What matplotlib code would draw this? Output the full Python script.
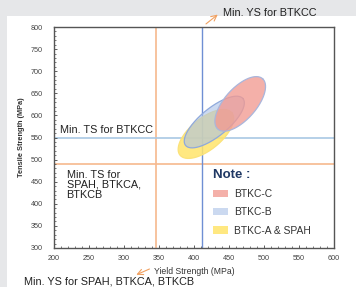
import numpy as np
import matplotlib.pyplot as plt
from matplotlib.patches import Rectangle, Patch

plt.rcParams['font.family'] = ['Liberation Sans', 'DejaVu Sans']

# minimum requirements (MPa)
ys_min_spah, ys_min_btkcc = 345, 412
ts_min_spah, ts_min_btkcc = 490, 550

# property ranges drawn as ellipses: centre, half-extent along major axis, minor/major ratio
grades = ['BTKC-C', 'BTKC-B', 'BTKC-A & SPAH']
center_ys = [466, 429, 417]
center_ts = [626, 585, 558]
half_ys = [32, 41, 37]
half_ts = [57, 53, 48]
minor_ratio = [0.47, 0.38, 0.47]

fills = ['#f29a91', '#a9c1e6', '#ffe56b']
edges = ['#aab6dc', '#8fa9dc', '#fbe27a']
alphas = [0.78, 0.6, 0.85]

xticks = np.arange(200, 601, 50)
yticks = np.arange(300, 801, 50)

def ellipse_xy(ax, cx, cy, dx, dy, ratio):
    """Ellipse in data units whose minor axis is perpendicular on screen."""
    t = np.linspace(0, 2*np.pi, 200)
    c = ax.transData.transform((cx, cy))
    maj = ax.transData.transform((cx + dx, cy + dy)) - c
    mnr = np.array([-maj[1], maj[0]]) * ratio
    pts = c + np.outer(np.cos(t), maj) + np.outer(np.sin(t), mnr)
    pts = ax.transData.inverted().transform(pts)
    return pts[:, 0], pts[:, 1]

W, H = 356, 287
fig = plt.figure(figsize=(W/100, H/100), dpi=100)
fig.patch.set_facecolor('#e6e7e9')
fig.add_artist(Rectangle((7/W, 0), 1, 1 - 16/H, transform=fig.transFigure,
                         facecolor='white', edgecolor='none', zorder=-10))

ax = fig.add_axes([54/W, 39/H, 280/W, 221/H])
ax.set_xlim(200, 600)
ax.set_ylim(300, 800)
ax.set_xticks(xticks)
ax.set_yticks(yticks)
ax.set_xticks(np.arange(200, 601, 10), minor=True)
ax.set_yticks(np.arange(300, 801, 10), minor=True)
ax.tick_params(which='both', direction='in', labelsize=5.2, labelcolor='#444444', color='#444444')
ax.tick_params(axis='x', pad=5)
ax.tick_params(axis='y', pad=8)
ax.tick_params(which='major', length=2, width=0.6)
ax.tick_params(which='minor', length=1.2, width=0.5)
for s in ax.spines.values():
    s.set_color('#555555')
    s.set_linewidth(1.0)

# requirement lines
ax.axvline(ys_min_spah, color='#f6b98e', lw=1.2, zorder=1)
ax.axhline(ts_min_spah, color='#f6b98e', lw=1.2, zorder=1)
ax.axhline(ts_min_btkcc, color='#a9c8e4', lw=1.2, zorder=1)
ax.axvline(ys_min_btkcc, color='#6f8fd4', lw=1.0, zorder=1)

# ellipses, drawn bottom (yellow) to top (red)
for i in [2, 1, 0]:
    x, y = ellipse_xy(ax, center_ys[i], center_ts[i], half_ys[i], half_ts[i], minor_ratio[i])
    ax.fill(x, y, facecolor=fills[i], alpha=alphas[i], edgecolor='none', zorder=2)
    ax.plot(x, y, color=edges[i], lw=0.9, zorder=2)

ax.text(208, 556, 'Min. TS for BTKCC', fontsize=7.8, color='#222222', va='bottom')
ax.text(218, 477, 'Min. TS for\nSPAH, BTKCA,\nBTKCB', fontsize=7.8, color='#222222',
        va='top', linespacing=1.0)

handles = [Patch(facecolor=fills[i], alpha=alphas[i], edgecolor='none') for i in range(3)]
leg = ax.legend(handles, grades, loc='upper left', bbox_to_anchor=(0.535, 0.40),
                frameon=False, title='Note :', alignment='left', fontsize=7.4,
                handlelength=1.5, handleheight=0.75, labelspacing=0.8, handletextpad=0.55,
                title_fontproperties={'size': 9.5, 'weight': 'bold'})
leg.get_title().set_color('#1f3864')
for t in leg.get_texts():
    t.set_color('#333333')

# annotations pointing to the requirement lines
ax.annotate('', xy=(437, 832), xytext=(414, 803), annotation_clip=False,
            arrowprops=dict(arrowstyle='->', color='#f0a060', lw=0.8))
ax.annotate('', xy=(314, 237), xytext=(340, 255), annotation_clip=False,
            arrowprops=dict(arrowstyle='->', color='#f0a060', lw=0.8))
fig.text(223/W, 1 - 13/H, 'Min. YS for BTKCC', fontsize=7.8, color='#222222', va='center')
fig.text(24/W, 1 - 286.5/H, 'Min. YS for SPAH, BTKCA, BTKCB', fontsize=7.8, color='#222222', va='bottom')

fig.text(194/W, 1 - 271/H, 'Yield Strength (MPa)', fontsize=6.2, color='#333333', ha='center', va='center')
fig.text(22/W, 1 - 137/H, 'Tensile Strength (MPa)', fontsize=5.3, color='#333333', fontweight='bold',
         rotation=90, ha='center', va='center')

fig.savefig('out.png', dpi=100, facecolor=fig.get_facecolor())
